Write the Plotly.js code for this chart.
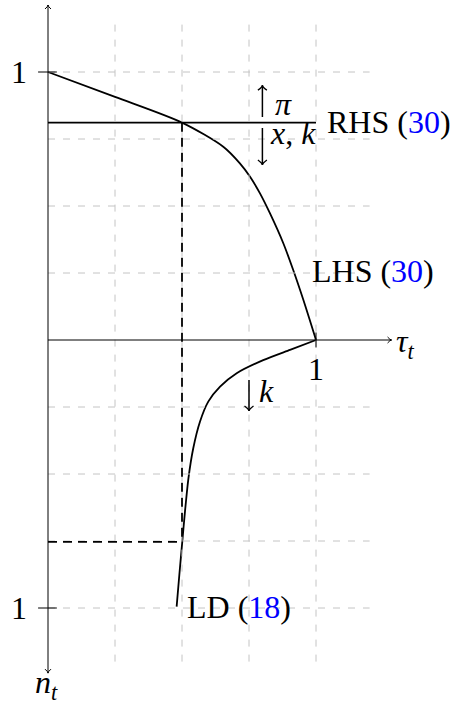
<!DOCTYPE html>
<html>
<head>
<meta charset="utf-8">
<script src="https://cdn.plot.ly/plotly-3.0.1.min.js"></script>
<style>
  html, body { margin: 0; padding: 0; background: #fff; }
  #myPlot { width: 450px; height: 702px; }
</style>
</head>
<body>
<div id="myPlot"></div>
<script>
// values (tau_t to the right, n_t downwards)
const gridTau = [0.25, 0.5, 0.75, 1];
const gridLevels = [-1, -0.75, -0.5, -0.25, 0.25, 0.5, 0.75, 1];

const lhsTau = [0, 0.25, 0.5, 0.654, 0.716, 0.754, 0.791, 0.828, 0.878, 0.915, 0.953, 1];
const lhsVal = [1, 0.907, 0.811, 0.721, 0.659, 0.609, 0.547, 0.473, 0.361, 0.261, 0.149, 0];

const ldTau = [1, 0.903, 0.803, 0.704, 0.642, 0.598, 0.567, 0.542, 0.524, 0.511, 0.501, 0.49, 0.48];
const ldN = [0, 0.037, 0.075, 0.124, 0.174, 0.23, 0.305, 0.404, 0.516, 0.641, 0.753, 0.877, 0.995];

const rhsLevel = 0.811;
const tauStar = 0.5;
const nStar = 0.753;

const FONT = '"Liberation Serif", "Times New Roman", serif';
const PX = 1 / 268; // one pixel in data units

// small tikz-like "->" head
function head(x, y, dx, dy, len, half, w) {
  const px = -dy, py = dx;
  const bx = x - dx * len * PX, by = y - dy * len * PX;
  const cx = x - dx * len * 0.35 * PX, cy = y - dy * len * 0.35 * PX;
  return {
    type: 'path',
    path: `M${bx + px * half * PX},${by + py * half * PX} Q${cx},${cy} ${x},${y} ` +
          `Q${cx},${cy} ${bx - px * half * PX},${by - py * half * PX}`,
    line: { color: 'black', width: w || 1 }
  };
}

function seg(x0, y0, x1, y1, width, dash, color) {
  return { type: 'line', x0: x0, y0: y0, x1: x1, y1: y1,
           line: { color: color || 'black', width: width, dash: dash || 'solid' } };
}

const shapes = [];

// grid
gridTau.forEach(t => shapes.push(seg(t, -1.2, t, 1.2, 1, '7px,8px', '#c4c4c4')));
gridLevels.forEach(v => shapes.push(seg(0, v, 1.2, v, 1, '7px,8px', '#c4c4c4')));

// axes
shapes.push(seg(0, -1.243, 0, 1.25, 1));
shapes.push(seg(0, 0, 1.282, 0, 1));
shapes.push(head(0, 1.25, 0, 1, 4, 3));
shapes.push(head(0, -1.243, 0, -1, 4, 3));
shapes.push(head(1.282, 0, 1, 0, 4, 3));

// ticks
shapes.push(seg(-0.037, 1, 0.033, 1, 1));
shapes.push(seg(-0.037, -1, 0.033, -1, 1));
shapes.push(seg(1, -0.028, 1, 0.028, 1));

// equilibrium guides
shapes.push(seg(tauStar, rhsLevel, tauStar, -nStar, 1.8, '9px,6px'));
shapes.push(seg(0, -nStar, tauStar, -nStar, 1.8, '9px,6px'));

// shift arrows
shapes.push(seg(0.8, 0.832, 0.8, 0.951, 1.5));
shapes.push(head(0.8, 0.951, 0, 1, 5, 4.5, 1.3));
shapes.push(seg(0.8, 0.791, 0.8, 0.653, 1.5));
shapes.push(head(0.8, 0.653, 0, -1, 5, 4.5, 1.3));
shapes.push(seg(0.75, -0.149, 0.75, -0.265, 1.5));
shapes.push(head(0.75, -0.265, 0, -1, 5, 4.5, 1.3));

const rhs = {
  x: [0, 1], y: [rhsLevel, rhsLevel],
  type: 'scatter', mode: 'lines',
  line: { color: 'black', width: 1.8 },
  hoverinfo: 'skip'
};

const lhs = {
  x: lhsTau, y: lhsVal,
  type: 'scatter', mode: 'lines',
  line: { color: 'black', width: 1.8, shape: 'spline', smoothing: 0.8 },
  hoverinfo: 'skip'
};

const ld = {
  x: ldTau, y: ldN.map(v => -v),
  type: 'scatter', mode: 'lines',
  line: { color: 'black', width: 1.8, shape: 'spline', smoothing: 0.6 },
  hoverinfo: 'skip'
};

function label(text, x, y, xanchor, size) {
  return { text: text, x: x, y: y, xref: 'x', yref: 'y',
           xanchor: xanchor || 'left', yanchor: 'middle', showarrow: false,
           font: { family: FONT, size: size || 32, color: 'black' } };
}

const blue = s => `<span style="color:#0000ff">${s}</span>`;

const annotations = [
  label('RHS (' + blue('30') + ')', 1.034, 0.815),
  label('LHS (' + blue('30') + ')', 0.976, 0.259),
  label('LD (' + blue('18') + ')', 0.513, -0.998),
  label('1', -0.108, 1.0, 'center'),
  label('1', -0.108, -1.0, 'center'),
  label('1', 1.0, -0.108, 'center'),
  label('<i>τ<sub>t</sub></i>', 1.29, -0.012),
  label('<i>n<sub>t</sub></i>', -0.007, -1.284, 'center'),
  label('<i>π</i>', 0.879, 0.88, 'center'),
  label('<i>x</i>, <i>k</i>', 0.914, 0.772, 'center'),
  label('<i>k</i>', 0.817, -0.19, 'center')
];

const layout = {
  width: 450,
  height: 702,
  margin: { l: 0, r: 0, t: 0, b: 0 },
  paper_bgcolor: 'white',
  plot_bgcolor: 'white',
  showlegend: false,
  xaxis: { range: [-48 / 268, 402 / 268], visible: false, fixedrange: true },
  yaxis: { range: [-362 / 268, 340 / 268], visible: false, fixedrange: true },
  shapes: shapes,
  annotations: annotations
};

Plotly.newPlot('myPlot', [rhs, lhs, ld], layout, { staticPlot: true });
</script>
</body>
</html>
